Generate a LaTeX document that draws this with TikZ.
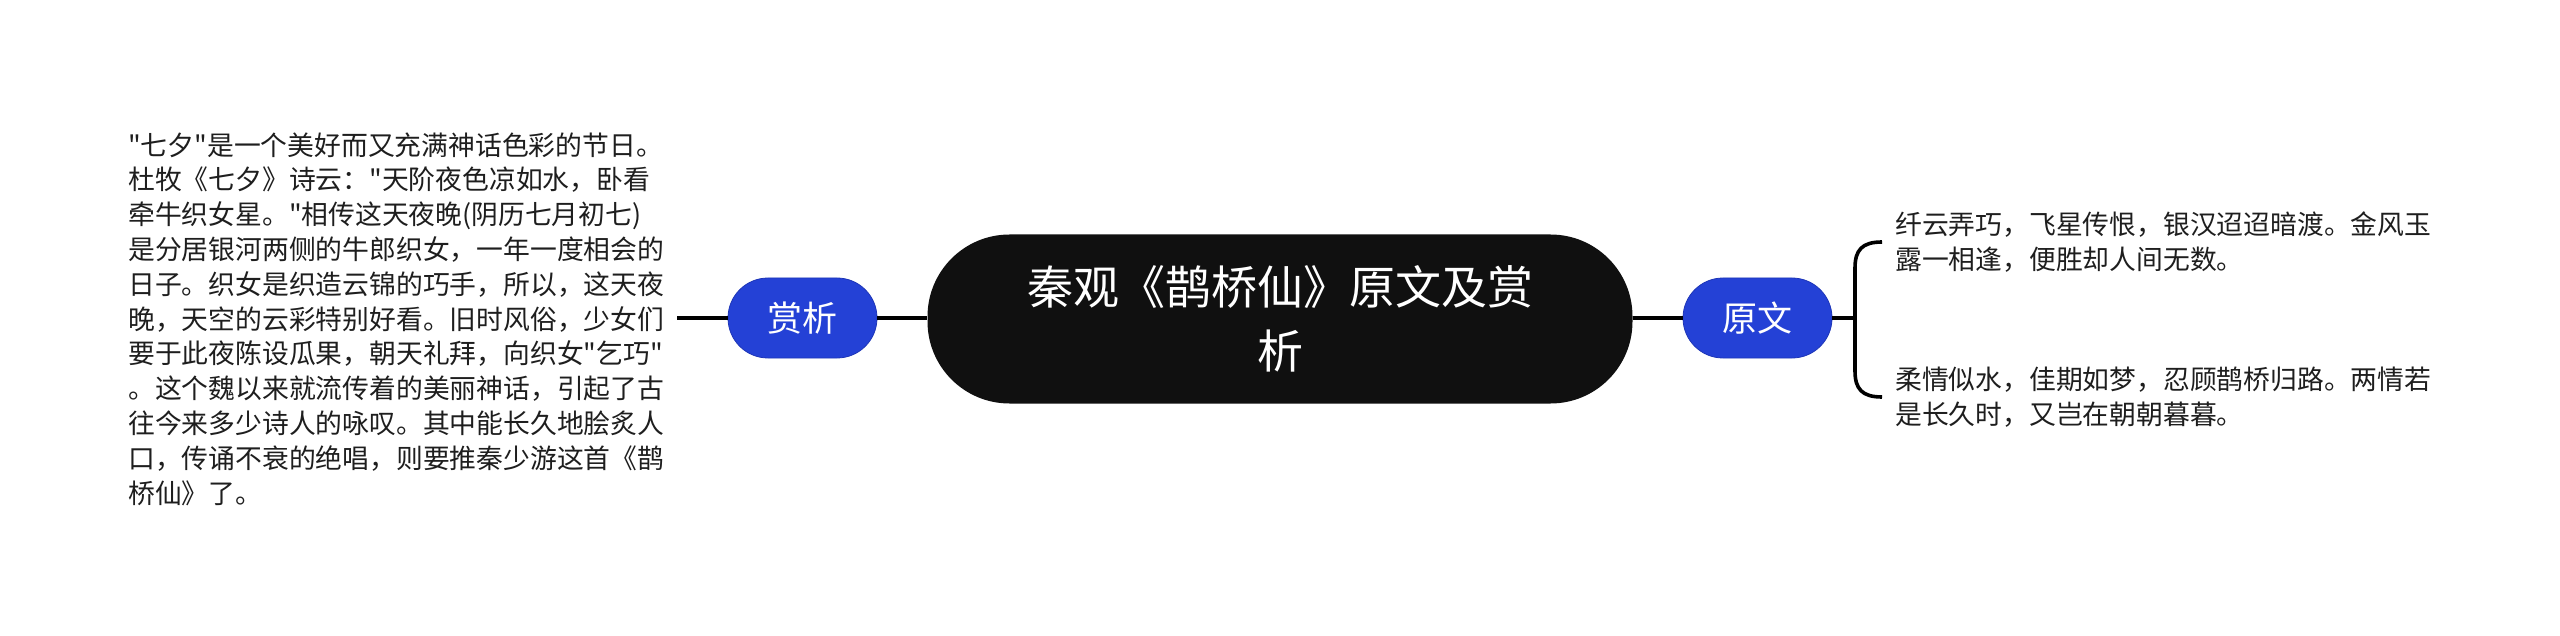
\documentclass[tikz,border=0pt]{standalone}
\usepackage{fontspec}
\setmainfont{Noto Sans CJK SC}[Ligatures=TeXOff]
\definecolor{nodeblue}{HTML}{2441D6}
\definecolor{nodeedge}{HTML}{1E36B8}
\definecolor{mainblack}{HTML}{101010}
\definecolor{textcol}{HTML}{1E1E1E}
\begin{document}
\begin{tikzpicture}[x=1pt,y=-1pt,
  conn/.style={line width=4pt, draw=black},
  bracketline/.style={line width=3.6pt, draw=black},
  subnode/.style={fill=nodeblue, draw=nodeedge, line width=0.8pt, rounded corners=40pt, minimum width=149pt, minimum height=80pt, inner sep=0pt, text=white, font=\fontsize{35}{42}\selectfont},
  mainnode/.style={fill=mainblack, rounded corners=82pt, minimum width=705pt, minimum height=169pt, inner sep=0pt, text=white, align=center, font=\fontsize{46}{64}\selectfont},
  leaftext/.style={inner sep=0pt, align=left, text=textcol, font=\fontsize{26.8}{34.8}\selectfont}]
\useasboundingbox (0,0) rectangle (2560,636);
\fill[white] (0,0) rectangle (2560,636);
\node[mainnode] (root) at (1280,319) {秦观《鹊桥仙》原文及赏\\析};
\node[subnode] (sx) at (802.5,318) {赏析};
\node[subnode] (yw) at (1757.5,318) {原文};
\node[leaftext, anchor=west] (lt) at (128,319) {"七夕"是一个美好而又充满神话色彩的节日。\\%
杜牧《七夕》诗云："天阶夜色凉如水，卧看\\%
牵牛织女星。"相传这天夜晚(阴历七月初七)\\%
是分居银河两侧的牛郎织女，一年一度相会的\\%
日子。织女是织造云锦的巧手，所以，这天夜\\%
晚，天空的云彩特别好看。旧时风俗，少女们\\%
要于此夜陈设瓜果，朝天礼拜，向织女"乞巧"\\%
。这个魏以来就流传着的美丽神话，引起了古\\%
往今来多少诗人的咏叹。其中能长久地脍炙人\\%
口，传诵不衰的绝唱，则要推秦少游这首《鹊\\%
桥仙》了。};
\node[leaftext, anchor=west] (r1) at (1895,242) {纤云弄巧，飞星传恨，银汉迢迢暗渡。金风玉\\%
露一相逢，便胜却人间无数。};
\node[leaftext, anchor=west] (r2) at (1895,397) {柔情似水，佳期如梦，忍顾鹊桥归路。两情若\\%
是长久时，又岂在朝朝暮暮。};
\draw[conn] ([xshift=13pt]lt.east |- sx.west) -- (sx.west);
\draw[conn] (sx.east) -- (sx.east -| root.west);
\draw[conn] (root.east |- yw.west) -- (yw.west);
\coordinate (bk) at (1855,318);
\draw[conn] (yw.east) -- (bk);
\coordinate (bt) at ([xshift=-13pt]r1.west);
\coordinate (bb) at ([xshift=-13pt]r2.west);
\draw[bracketline] (bt) .. controls ([shift={(-20,0)}]bt) and ([shift={(-27,8)}]bt) .. ([shift={(-27,26)}]bt) -- ([shift={(-27,-26)}]bb) .. controls ([shift={(-27,-8)}]bb) and ([shift={(-20,0)}]bb) .. (bb);
\end{tikzpicture}
\end{document}
